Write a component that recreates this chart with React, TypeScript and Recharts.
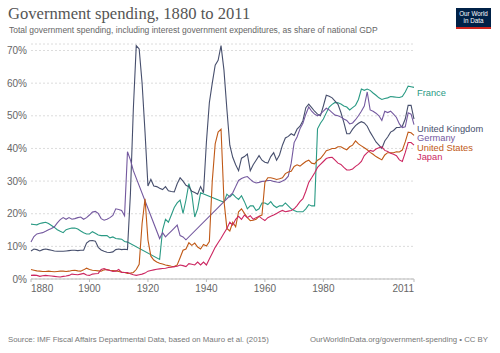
import { CartesianGrid, Line, LineChart, XAxis, YAxis } from "recharts";

const firstYear = 1880;
const lastYear = 2011;

// share of GDP, %, one value per year 1880..2011 (null = no data)
const france = [
  16.8, 16.7, 16.6, 17, 17.2, 17.4, 17, 16.4, 15.8, 15.1,
  14.6, 14.2, 15.1, 15.4, 15.6, 15.6, 15.3, 14.7, 14.2, 13.8,
  13.8, 14.5, 14, 13.5, 13.3, 13.3, 13.3, 12.6, 12.9, 12.4,
  12.3, 12.2, 11.5, 11.3, null, null, null, null, null, null,
  null, null, null, null, 6, 15, 18.3, 17.4, 19.6, 21.9,
  23.3, 24.2, 20.1, 24.2, 29.2, 26, 19, 21.5, 26.4, null,
  null, null, null, null, null, null, 23.5, 26, 25.1, 26,
  25.1, 24.4, 25.5, 23.7, 21.5, 22.4, 22.4, 21, 21.5, 23.3,
  23.3, 22.8, 23.7, 22.5, 21.9, 22.4, 22.4, 23.3, 22.4, 21.5,
  21, 20.6, 20.6, 20.6, 21.5, 22.8, 22.4, 22.4, 46, 47.7,
  49, 50.9, 52.7, 53.5, 54.1, 54, 53.6, 53, 52.7, 51.8,
  52.5, 53.2, 55, 58.2, 57.8, 58.2, 57.8, 57, 56.3, 55.5,
  55, 55.3, 55.5, 55.9, 55.8, 55.7, 55.6, 55.9, 57.3, 59.1,
  58.9, 58.7,
];

const uk = [
  8.6, 9.2, 9.0, 8.6, 9.0, 9.2, 9.0, 8.8, 8.6, 8.5,
  8.5, 8.5, 8.6, 8.7, 8.8, 8.8, 8.7, 8.8, 8.8, 11.0,
  11.7, 11.8, 11.6, 9.7, 8.9, 8.5, 8.2, 8.1, 8.3, 9.0,
  9.2, 9.0, 9.1, 9.0, 26, 52, 71.5, 70.5, 60, 45,
  28.5, 30.5, 28.5, 28.3, 27.8, 27.4, 28.3, 27.0, 26.8, 26.7,
  29.2, 31, 30, 28.7, 28.3, 26.9, 26.5, 26, 28.3, 26.4,
  42, 54, 60, 65.5, 67, 71.5, 64, 52, 41, 37.3,
  35, 33.2, 37, 37.5, 38.3, 33.2, 35, 36.4, 37.8, 36.4,
  35.8, 35.5, 37.5, 38.7, 36.4, 38, 41, 43.2, 43.7, 44.5,
  44, 45.9, 46.8, 48.5, 52.5, 53.6, 52.5, 51.4, 50.5, 50,
  53, 56.3, 56, 55.5, 54.5, 53.5, 51, 48, 44.5, 44.5,
  45.9, 47, 47.7, 48.2, 47.8, 46.8, 45, 43.5, 42, 41,
  40, 42.3, 43.5, 45, 45.5, 46.4, 46.4, 46.8, 49, 53.2,
  53.2, 49,
];

const germany = [
  11.3, 13, 13.8, 14, 14.2, 14.6, 15.1, 15.5, 16, 17.2,
  18.2, 18.8, 18.3, 18.8, 18.3, 18.5, 18.8, 19, 18.3, 18.8,
  19.6, 20.5, 20.7, 20.1, 18.5, 18, 18.3, 18.8, 19.5, 21.5,
  21.3, 21, 19.4, 39, 36.5, 33.2, null, null, null, null,
  null, null, null, null, 12.4, 14.2, 12.9, 13.8, 14.7, 15.6,
  16.5, 13.3, 12.9, 12, null, null, null, null, null, null,
  null, null, null, null, null, null, null, null, null, 26.4,
  28.3, 30.2, 30.8, 31.2, 31.4, 30.5, 29.8, 29.4, 29.6, 29.9,
  30, 30.2, 30.2, 29.9, 29.7, 29.6, 30, 30.5, 31.5, 35.5,
  41.8, 43.5, 46, 47.7, 50.5, 52.7, 51.4, 50.5, 50, 50.5,
  51.4, 52.3, 51.8, 51, 50.2, 50, 49.6, 49, 48.6, 47.5,
  47.8, 48.8, 50, 51.4, 53, 57.3, 51.8, 51.4, 50.8, 50,
  48.6, 51.4, 51, 51.4, 50.5, 49.5, 47.5, 46.4, 46.6, 50.9,
  50.5, 47.3,
];

const unitedStates = [
  2.9, 2.7, 2.5, 2.4, 2.3, 2.3, 2.4, 2.3, 2.2, 2.3,
  2.4, 2.4, 2.3, 2.4, 2.6, 2.7, 2.5, 2.4, 2.8, 3.3,
  2.9, 2.7, 2.6, 2.5, 2.4, 2.8, 2.9, 2.7, 2.6, 2.5,
  2.3, 2.1, 2.0, 1.7, 1.8, 2.0, 2.9, 4.5, 17, 24.6,
  12, 7, 5.8, 5.2, 4.8, 4.6, 4.3, 4.1, 3.9, 3.8,
  4.3, 6.5, 8.8, 9.2, 11.1, 10.3, 11, 9.8, 9.2, 10.6,
  10.1, 11.5, 30, 41.4, 45, 45.9, 24, 15.5, 14.7, 17.4,
  16, 20.6, 21.5, 20.1, 18.8, 17.9, 18, 18.3, 19.2, 19.6,
  29.6, 31, 31, 30.8, 30.5, 30.7, 31, 32.3, 32.8, 33,
  34.5, 35, 34.6, 35.3, 36, 36.4, 35.5, 35.3, 36.4, 36.9,
  38, 39.3, 39.6, 40, 40, 40.5, 40.5, 40, 39.6, 40.5,
  41, 42.3, 41.4, 40.8, 40.2, 39.6, 38.8, 38.2, 37.5, 37,
  36.5, 38, 38.7, 38.7, 38.7, 39, 38.9, 39.5, 42, 45,
  44.8, 44,
];

const japan = [
  1.1, 1.2, 1.1, 0.8, 1.0, 1.1, 1.0, 0.9, 0.8, 0.7,
  0.6, 0.8, 0.9, 1.1, 1.5, 1.4, 1.3, 1.5, 1.7, 1.2,
  1.1, 1.5, 1.6, 1.7, 2.9, 3.2, 2.8, 2.6, 2.3, 2.4,
  2.9, 2.0, 2.0, 2.0, 1.6, 1.3, 1.1, 1.3, 1.5, 1.8,
  2.4, 2.6, 2.8, 3.0, 3.1, 3.2, 3.3, 3.5, 3.6, 3.8,
  3.9, 4.3, 4.1, 3.8, 4.7, 4.5, 4.3, 5.2, 4.3, 5.2,
  4.3, 6.1, 7.9, 9.7, 11.1, 12.5, 14, 15.5, 17.4, 16.5,
  18.3, 19.2, 18.3, 19.6, 18.8, 19.4, 18.3, 18.8, 19.2, 18.5,
  17.9, 18.8, 19.2, 19.6, 20.1, 20.6, 21, 20.6, 20.8, 21,
  21.5, 22.5, 23.7, 24.6, 26.9, 29.6, 31, 32.5, 34.2, 35.1,
  36, 36.9, 37.2, 37.3, 36.4, 35.5, 35.1, 34.2, 33.4, 33.4,
  33.7, 34.5, 35.1, 36, 37.8, 38.7, 39.4, 39.1, 39.8, 40.2,
  40.5, 39.4, 39.1, 38.5, 38.2, 37.8, 36.5, 36, 38.7, 41.8,
  41.8, 41,
];

const xTicks = [1880, 1900, 1920, 1940, 1960, 1980, 2011];
const yTicks = [0, 10, 20, 30, 40, 50, 60, 70];

const series = [
  { key: "France", values: france, color: "#2a9a84", labelTop: 88.5 },
  { key: "United Kingdom", values: uk, color: "#474f6d", labelTop: 124.5 },
  { key: "Germany", values: germany, color: "#74599f", labelTop: 133.8 },
  { key: "United States", values: unitedStates, color: "#c05917", labelTop: 143.5 },
  { key: "Japan", values: japan, color: "#cc2661", labelTop: 152.8 },
];

const data = france.map((_, i) => {
  const row: any = { year: firstYear + i };
  series.forEach((s) => {
    row[s.key] = s.values[i];
  });
  return row;
});

const sans = "'Liberation Sans', Arial, sans-serif";

const XTick = (props: any) => {
  const { x, y, payload } = props;
  const v = payload.value;
  const anchor = v === firstYear ? "start" : v === lastYear ? "end" : "middle";
  return (
    <text x={x} y={y} dy={8} textAnchor={anchor} fill="#666" fontSize={10} fontFamily={sans}>
      {v}
    </text>
  );
};

export default function App() {
  return (
    <div
      style={{
        position: "absolute",
        left: 0,
        top: 0,
        width: 500,
        height: 353,
        background: "#fff",
        fontFamily: sans,
        overflow: "hidden",
      }}
    >
      <div
        style={{
          position: "absolute",
          left: 8,
          top: 4,
          fontFamily: "'Liberation Serif', 'DejaVu Serif', serif",
          fontSize: 16.6,
          color: "#555",
          whiteSpace: "nowrap",
        }}
      >
        Government spending, 1880 to 2011
      </div>
      <div
        style={{
          position: "absolute",
          left: 9,
          top: 25,
          fontSize: 8.5,
          color: "#666",
          whiteSpace: "nowrap",
        }}
      >
        Total government spending, including interest government expenditures, as share of national GDP
      </div>
      <div
        style={{
          position: "absolute",
          left: 456,
          top: 8,
          width: 35,
          height: 21,
          background: "#002147",
          borderBottom: "2px solid #ce261e",
          boxSizing: "border-box",
          color: "#fff",
          fontSize: 6.3,
          lineHeight: "7px",
          textAlign: "center",
          paddingTop: 2,
        }}
      >
        Our World
        <br />
        in Data
      </div>

      <LineChart
        width={500}
        height={353}
        data={data}
        margin={{ top: 44, right: 86, bottom: 44, left: 0 }}
        style={{ position: "absolute", left: 0, top: 0 }}
      >
        <CartesianGrid vertical={false} stroke="#dcdcdc" strokeDasharray="2 2" />
        <XAxis
          dataKey="year"
          type="number"
          domain={[firstYear, lastYear]}
          ticks={xTicks}
          interval={0}
          tick={<XTick />}
          tickSize={3}
          tickMargin={2}
          stroke="#bbb"
          tickLine={{ stroke: "#bbb" }}
        />
        <YAxis
          width={31}
          domain={[0, 72]}
          ticks={yTicks}
          interval={0}
          axisLine={false}
          tickLine={false}
          tickSize={2}
          tickMargin={2}
          tickFormatter={(v) => `${v}%`}
          tick={{ fill: "#666", fontSize: 10, fontFamily: sans }}
        />
        {series.map((s) => (
          <Line
            key={s.key}
            type="linear"
            dataKey={s.key}
            stroke={s.color}
            strokeWidth={1.1}
            dot={false}
            connectNulls
            isAnimationActive={false}
          />
        ))}
      </LineChart>

      {series.map((s) => (
        <div
          key={s.key}
          style={{
            position: "absolute",
            left: 417,
            top: s.labelTop,
            fontSize: 9.3,
            lineHeight: "9px",
            color: s.color,
            whiteSpace: "nowrap",
          }}
        >
          {s.key}
        </div>
      ))}

      <div
        style={{
          position: "absolute",
          left: 8,
          top: 335,
          fontSize: 7.8,
          color: "#777",
          whiteSpace: "nowrap",
        }}
      >
        Source: IMF Fiscal Affairs Departmental Data, based on Mauro et al. (2015)
      </div>
      <div
        style={{
          position: "absolute",
          right: 12,
          top: 335,
          fontSize: 7.8,
          color: "#777",
          whiteSpace: "nowrap",
        }}
      >
        OurWorldInData.org/government-spending • CC BY
      </div>
    </div>
  );
}
